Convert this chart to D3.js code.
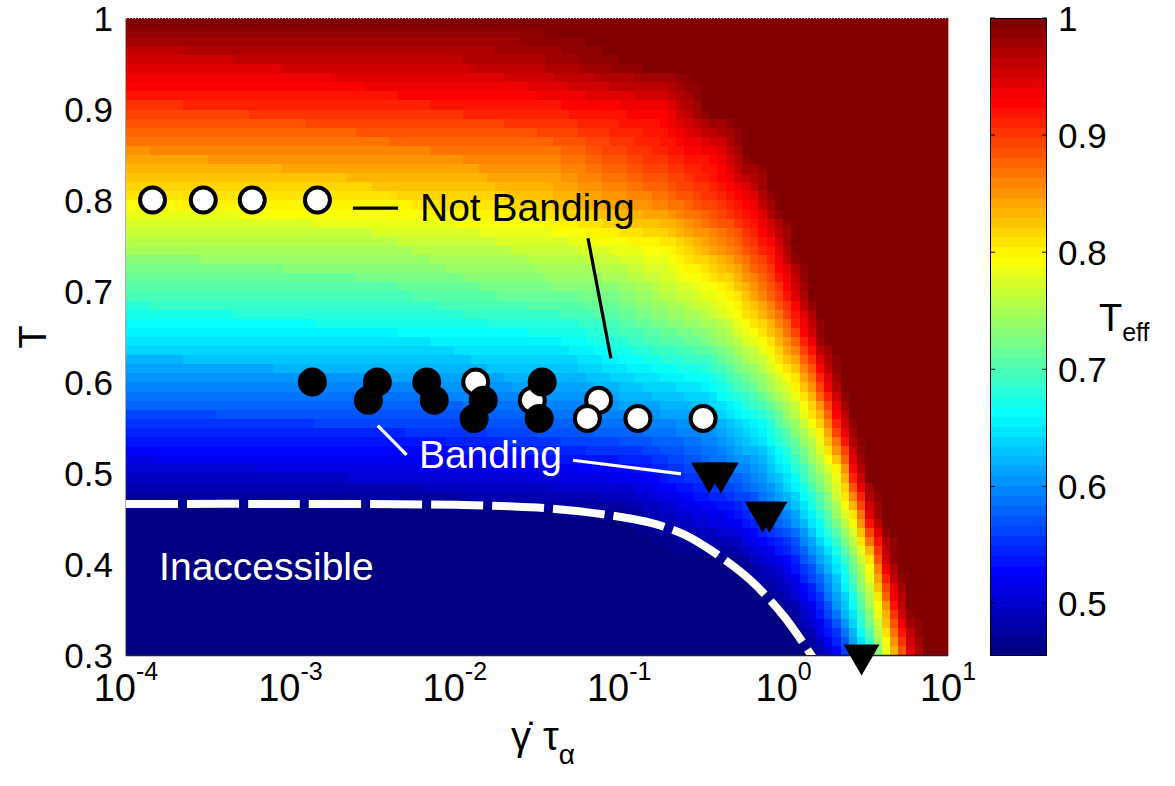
<!DOCTYPE html>
<html><head><meta charset="utf-8">
<script src="https://cdn.jsdelivr.net/npm/d3@7"></script>
<style>
body{margin:0;background:#fff}
text{font-family:"Liberation Sans",Arial,Helvetica,sans-serif}
</style>
</head><body>
<svg id="chart" width="1175" height="786"></svg>
<script>
// ---------------- data ----------------
const xTickValues = [1e-4, 1e-3, 1e-2, 1e-1, 1, 10];
const xTickExponents = ["-4", "-3", "-2", "-1", "0", "1"];
const yTickValues = [0.3, 0.4, 0.5, 0.6, 0.7, 0.8, 0.9, 1];
const yTickLabels = ["0.3", "0.4", "0.5", "0.6", "0.7", "0.8", "0.9", "1"];
const cbTickValues = [0.5, 0.6, 0.7, 0.8, 0.9, 1];
const cbTickLabels = ["0.5", "0.6", "0.7", "0.8", "0.9", "1"];
const teffRange = [0.456, 1.0];

// Effective temperature field:
// for each temperature row, knots of [log10(shear rate * tau), Teff]
const teffRowT = [0.30, 0.35, 0.40, 0.45, 0.50, 0.55, 0.60, 0.65, 0.70, 0.75, 0.80, 0.85, 0.90, 0.95, 1.00];
const teffRowKnots = [
  [[-4, 0.30], [0.18, 0.46], [0.34, 0.524], [0.44, 0.60], [0.52, 0.66], [0.58, 0.73], [0.65, 0.80], [0.71, 0.864], [0.77, 0.932], [0.88, 1.0]],
  [[-4, 0.35], [0.00, 0.46], [0.20, 0.524], [0.33, 0.60], [0.43, 0.66], [0.51, 0.73], [0.59, 0.80], [0.64, 0.864], [0.69, 0.932], [0.78, 1.0]],
  [[-4, 0.40], [-0.30, 0.46], [0.04, 0.524], [0.22, 0.60], [0.35, 0.66], [0.44, 0.73], [0.53, 0.80], [0.57, 0.864], [0.61, 0.932], [0.70, 1.0]],
  [[-4, 0.45], [-1.0, 0.46], [-0.30, 0.524], [0.05, 0.60], [0.20, 0.66], [0.32, 0.73], [0.43, 0.80], [0.48, 0.864], [0.52, 0.932], [0.61, 1.0]],
  [[-4, 0.50], [-2.0, 0.505], [-0.90, 0.524], [-0.15, 0.60], [0.05, 0.66], [0.20, 0.73], [0.34, 0.80], [0.39, 0.864], [0.43, 0.932], [0.52, 1.0]],
  [[-4, 0.55], [-2.1, 0.555], [-0.50, 0.60], [-0.12, 0.66], [0.06, 0.73], [0.22, 0.80], [0.29, 0.864], [0.35, 0.932], [0.44, 1.0]],
  [[-4, 0.60], [-2.2, 0.605], [-1.2, 0.62], [-0.45, 0.66], [-0.15, 0.73], [0.07, 0.80], [0.18, 0.864], [0.26, 0.932], [0.36, 1.0]],
  [[-4, 0.65], [-2.3, 0.655], [-1.3, 0.665], [-0.45, 0.73], [-0.12, 0.80], [0.03, 0.864], [0.15, 0.932], [0.25, 1.0]],
  [[-4, 0.70], [-2.4, 0.705], [-1.0, 0.73], [-0.33, 0.80], [-0.12, 0.864], [0.05, 0.932], [0.16, 1.0]],
  [[-4, 0.75], [-2.5, 0.755], [-1.4, 0.77], [-0.69, 0.80], [-0.32, 0.864], [-0.05, 0.932], [0.07, 1.0]],
  [[-4, 0.80], [-2.6, 0.805], [-1.5, 0.82], [-0.75, 0.864], [-0.19, 0.932], [-0.05, 1.0]],
  [[-4, 0.85], [-2.7, 0.855], [-1.4, 0.864], [-0.39, 0.932], [-0.22, 1.0]],
  [[-4, 0.90], [-2.8, 0.905], [-1.5, 0.915], [-0.72, 0.932], [-0.45, 1.0]],
  [[-4, 0.95], [-2.8, 0.955], [-1.6, 0.965], [-0.80, 1.0]],
  [[-4, 1.00]]
];

// dashed "inaccessible" boundary
const boundaryRate = [1e-4, 1e-3, 1e-2, 0.0316, 0.0631, 0.1, 0.158, 0.251, 0.398, 0.631, 1.0, 1.26, 1.51];
const boundaryT    = [0.466, 0.466, 0.465, 0.462, 0.457, 0.452, 0.445, 0.432, 0.410, 0.382, 0.343, 0.318, 0.297];

// simulation points
const openRate = [1.45e-4, 2.95e-4, 5.86e-4, 1.46e-3, 0.0134, 0.0296, 0.075, 0.064, 0.13, 0.324];
const openT    = [0.80, 0.80, 0.80, 0.80, 0.60, 0.58, 0.58, 0.56, 0.56, 0.56];
const filledRate = [1.36e-3, 3.38e-3, 6.75e-3, 0.034, 2.98e-3, 7.5e-3, 0.0149, 0.0131, 0.0326];
const filledT    = [0.60, 0.60, 0.60, 0.60, 0.58, 0.58, 0.58, 0.56, 0.56];
const triRate = [0.352, 0.415, 0.746, 0.820, 2.98];
const triT    = [0.50, 0.50, 0.457, 0.457, 0.30];

// annotations (data coordinates)
const labelTexts = ["Not Banding", "Banding", "Inaccessible"];
const labelRate  = [6.14e-3, 6.05e-3, 1.59e-4];
const labelT     = [0.777, 0.5055, 0.3824];
const labelColor = ["#000", "#fff", "#fff"];
const leaderRate = [[2.40e-3, 4.52e-3], [0.0646, 0.0891], [3.40e-3, 5.09e-3], [0.0524, 0.2378]];
const leaderT    = [[0.791, 0.791], [0.758, 0.626], [0.552, 0.520], [0.514, 0.499]];
const leaderColor = ["#000", "#000", "#fff", "#fff"];

// ---------------- drawing ----------------
const svg = d3.select("#chart");
const x = d3.scaleLog().domain([1e-4, 10]).range([126, 948]);
const y = d3.scaleLinear().domain([0.3, 1]).range([655, 18]);
const cScale = d3.scaleLinear().domain(teffRange).range([655, 18]);

function jet(t) {
  const c = v => Math.max(0, Math.min(1, v));
  const r = c(1.5 - Math.abs(4 * t - 3));
  const g = c(1.5 - Math.abs(4 * t - 2));
  const b = c(1.5 - Math.abs(4 * t - 1));
  return d3.rgb(r * 255, g * 255, b * 255).toString();
}
function colorOf(v) {
  let t = (v - teffRange[0]) / (teffRange[1] - teffRange[0]);
  let idx = Math.floor(t * 64);
  idx = Math.max(0, Math.min(63, idx));
  return jet(idx / 63);
}
function rowValue(knots, l) {
  if (l <= knots[0][0]) return knots[0][1];
  for (let i = 1; i < knots.length; i++) {
    if (l <= knots[i][0]) {
      const [l0, v0] = knots[i - 1], [l1, v1] = knots[i];
      return v0 + (v1 - v0) * (l - l0) / (l1 - l0);
    }
  }
  return knots[knots.length - 1][1];
}
function teff(T, l) {
  let i = d3.bisectRight(teffRowT, T) - 1;
  i = Math.max(0, Math.min(teffRowT.length - 2, i));
  const a = rowValue(teffRowKnots[i], l), b = rowValue(teffRowKnots[i + 1], l);
  const f = (T - teffRowT[i]) / (teffRowT[i + 1] - teffRowT[i]);
  return a + (b - a) * f;
}

// heat map cells
const tEdges = d3.range(0, 71).map(i => 0.30 + i * 0.01);
const lEdges = d3.range(0, 101).map(i => -4 + i * 0.05);
const cells = [];
for (let i = 0; i < tEdges.length - 1; i++) {
  for (let j = 0; j < lEdges.length - 1; j++) {
    const Tc = (tEdges[i] + tEdges[i + 1]) / 2;
    const Lc = (lEdges[j] + lEdges[j + 1]) / 2;
    cells.push({t0: tEdges[i], t1: tEdges[i + 1], r0: Math.pow(10, lEdges[j]), r1: Math.pow(10, lEdges[j + 1]), v: teff(Tc, Lc)});
  }
}
const heat = svg.append("g").attr("shape-rendering", "crispEdges");
heat.selectAll("rect").data(cells).join("rect")
  .attr("x", d => Math.floor(x(d.r0)))
  .attr("y", d => Math.floor(y(d.t1)))
  .attr("width", d => Math.ceil(x(d.r1)) - Math.floor(x(d.r0)))
  .attr("height", d => Math.ceil(y(d.t0)) - Math.floor(y(d.t1)))
  .attr("fill", d => colorOf(d.v));

// frame
svg.append("line").attr("x1", 126).attr("x2", 948).attr("y1", 18.5).attr("y2", 18.5)
  .attr("stroke", "#bbb").attr("stroke-width", 1).attr("stroke-dasharray", "1,2");
svg.append("line").attr("x1", 126).attr("x2", 948).attr("y1", 655.5).attr("y2", 655.5)
  .attr("stroke", "#222").attr("stroke-width", 1.5);
svg.append("line").attr("x1", 125.5).attr("x2", 125.5).attr("y1", 18).attr("y2", 656)
  .attr("stroke", "#aaa").attr("stroke-width", 1);
svg.append("line").attr("x1", 948.5).attr("x2", 948.5).attr("y1", 18).attr("y2", 656)
  .attr("stroke", "#d9a0a0").attr("stroke-width", 1);

// clip for boundary
svg.append("clipPath").attr("id", "plotclip").append("rect")
  .attr("x", 126).attr("y", 18).attr("width", 822).attr("height", 637);

// dashed boundary
const bpts = boundaryRate.map((r, i) => [r, boundaryT[i]]);
svg.append("path").datum(bpts)
  .attr("clip-path", "url(#plotclip)")
  .attr("d", d3.line().x(d => x(d[0])).y(d => y(d[1])).curve(d3.curveCatmullRom))
  .attr("fill", "none").attr("stroke", "#fff").attr("stroke-width", 8)
  .attr("stroke-dasharray", "52,9");

// leader lines
leaderRate.forEach((rr, i) => {
  svg.append("line")
    .attr("x1", x(rr[0])).attr("y1", y(leaderT[i][0]))
    .attr("x2", x(rr[1])).attr("y2", y(leaderT[i][1]))
    .attr("stroke", leaderColor[i]).attr("stroke-width", 3.2);
});

// annotation labels
labelTexts.forEach((s, i) => {
  svg.append("text").attr("x", x(labelRate[i])).attr("y", y(labelT[i]))
    .attr("font-size", 39).attr("fill", labelColor[i]).text(s);
});

// markers: open circles first, then filled, then triangles
svg.append("g").selectAll("circle").data(openRate.map((r, i) => [r, openT[i]])).join("circle")
  .attr("cx", d => x(d[0])).attr("cy", d => y(d[1])).attr("r", 12.5)
  .attr("fill", "#fff").attr("stroke", "#000").attr("stroke-width", 4);
svg.append("g").selectAll("circle").data(filledRate.map((r, i) => [r, filledT[i]])).join("circle")
  .attr("cx", d => x(d[0])).attr("cy", d => y(d[1])).attr("r", 12.5)
  .attr("fill", "#000").attr("stroke", "#000").attr("stroke-width", 4);
svg.append("g").selectAll("path").data(triRate.map((r, i) => [r, triT[i]])).join("path")
  .attr("transform", d => `translate(${x(d[0])},${y(d[1])})`)
  .attr("d", "M-18,-10.5L18,-10.5L0,20.5Z").attr("fill", "#000");

// y axis tick labels
svg.append("g").selectAll("text").data(yTickValues).join("text")
  .attr("x", 113).attr("y", d => y(d)).attr("dy", "0.36em")
  .attr("text-anchor", "end").attr("font-size", 35)
  .text((d, i) => yTickLabels[i]);

// x axis tick labels
const xt = svg.append("g").selectAll("text").data(xTickValues).join("text")
  .attr("x", d => x(d)).attr("y", 701).attr("text-anchor", "middle").attr("font-size", 38);
xt.append("tspan").text("10");
xt.append("tspan").attr("dy", -21).attr("font-size", 25).text((d, i) => xTickExponents[i]);

// axis titles
svg.append("text").attr("transform", "translate(46,337) rotate(-90)")
  .attr("text-anchor", "middle").attr("font-size", 38).text("T");
const xl = svg.append("text").attr("x", 511).attr("y", 750).attr("font-size", 40);
xl.append("tspan").text("\u03B3\u0307");
xl.append("tspan").attr("dx", 12).text("\u03C4");
xl.append("tspan").attr("dy", 14).attr("font-size", 28).text("\u03B1");

// colorbar
const cbX = 990, cbW = 57;
const bands = d3.range(64);
const bandEdge = i => cScale(teffRange[0] + i / 64 * (teffRange[1] - teffRange[0]));
svg.append("g").attr("shape-rendering", "crispEdges").selectAll("rect").data(bands).join("rect")
  .attr("x", cbX)
  .attr("y", i => Math.floor(bandEdge(i + 1)))
  .attr("width", cbW)
  .attr("height", i => Math.ceil(bandEdge(i)) - Math.floor(bandEdge(i + 1)))
  .attr("fill", i => jet(i / 63));
svg.append("rect").attr("x", cbX + 0.5).attr("y", 18.5).attr("width", cbW - 1).attr("height", 637)
  .attr("fill", "none").attr("stroke", "#000").attr("stroke-width", 1);
const cbt = svg.append("g");
cbt.selectAll("line.l").data(cbTickValues).join("line").attr("class", "l")
  .attr("x1", cbX).attr("x2", cbX + 5).attr("y1", d => cScale(d)).attr("y2", d => cScale(d))
  .attr("stroke", "#000");
cbt.selectAll("line.r").data(cbTickValues).join("line").attr("class", "r")
  .attr("x1", cbX + cbW - 5).attr("x2", cbX + cbW).attr("y1", d => cScale(d)).attr("y2", d => cScale(d))
  .attr("stroke", "#000");
cbt.selectAll("text").data(cbTickValues).join("text")
  .attr("x", 1058).attr("y", d => cScale(d)).attr("dy", "0.36em").attr("font-size", 35)
  .text((d, i) => cbTickLabels[i]);
const tl = svg.append("text").attr("x", 1099).attr("y", 331).attr("font-size", 38);
tl.append("tspan").text("T");
tl.append("tspan").attr("dy", 10).attr("font-size", 25).text("eff");
</script>
</body></html>
